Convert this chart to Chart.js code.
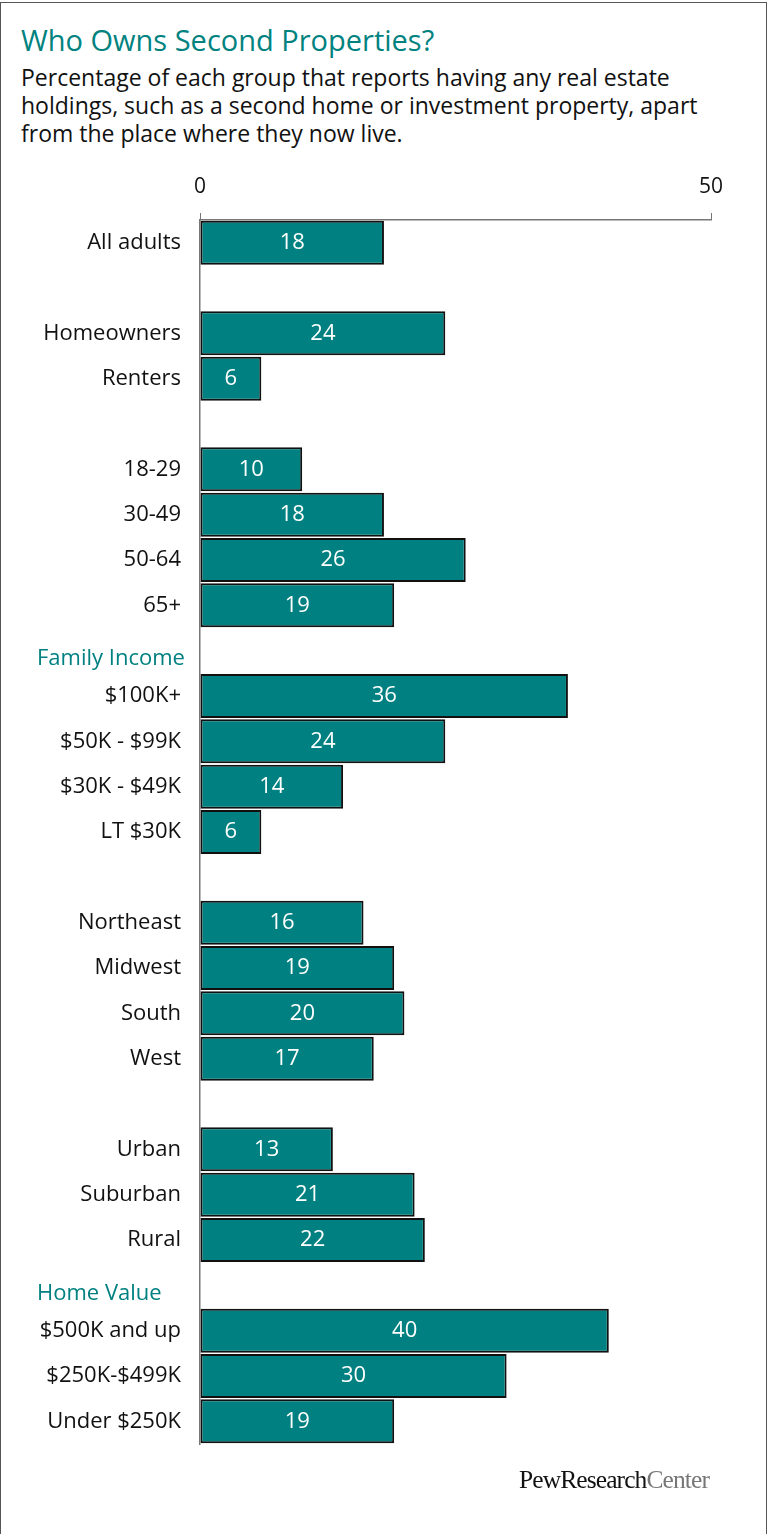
<!DOCTYPE html>
<html>
<head>
<meta charset="utf-8">
<script src="https://cdn.jsdelivr.net/npm/chart.js@4.4.1/dist/chart.umd.min.js"></script>
<style>
  body { margin: 0; background: #fff; }
  #page { position: relative; width: 768px; height: 1534px; overflow: hidden; font-family: "Open Sans", "DejaVu Sans", sans-serif; }
  #frame { position: absolute; left: 0; top: 2px; width: 765px; height: 1600px; border: 1px solid #555; }
  #title { position: absolute; left: 21px; top: 20px; font-size: 29px; color: #00827f; white-space: nowrap; }
  #subtitle { position: absolute; left: 21px; top: 63px; font-size: 23px; line-height: 28px; color: #111; white-space: nowrap; }
  #logo { position: absolute; left: 519px; top: 1465px; font-family: "Liberation Serif", serif; font-size: 25.5px; letter-spacing: -0.9px; color: #111; }
  #logo span { color: #777; }
  canvas { position: absolute; left: 0; top: 0; }
</style>
</head>
<body>
<div id="page">
  <div id="frame"></div>
  <div id="title">Who Owns Second Properties?</div>
  <div id="subtitle">Percentage of each group that reports having any real estate<br>holdings, such as a second home or investment property, apart<br>from the place where they now live.</div>
  <canvas id="chart" width="768" height="1534"></canvas>
  <div id="logo">PewResearch<span>Center</span></div>
</div>
<script>
// rows, top to bottom ('' = spacer row, headers get no bar)
const categories = ['All adults', '', 'Homeowners', 'Renters', '',
  '18-29', '30-49', '50-64', '65+', 'Family Income',
  '$100K+', '$50K - $99K', '$30K - $49K', 'LT $30K', '',
  'Northeast', 'Midwest', 'South', 'West', '',
  'Urban', 'Suburban', 'Rural', 'Home Value',
  '$500K and up', '$250K-$499K', 'Under $250K'];
const values = [18, null, 24, 6, null,
  10, 18, 26, 19, null,
  36, 24, 14, 6, null,
  16, 19, 20, 17, null,
  13, 21, 22, null,
  40, 30, 19];
const headers = ['Family Income', 'Home Value'];
const xTicks = [0, 50];

const teal = '#008080';
const fontFamily = '"Open Sans", "DejaVu Sans", sans-serif';

// value in the middle of each bar + the teal group headers (left aligned, a bit lower than the row)
const barText = {
  id: 'barText',
  afterDatasetsDraw(chart) {
    const ctx = chart.ctx;
    const meta = chart.getDatasetMeta(0);
    const yScale = chart.scales.y;
    ctx.save();
    ctx.font = '22px ' + fontFamily;
    ctx.textBaseline = 'middle';
    ctx.fillStyle = '#fff';
    ctx.textAlign = 'center';
    meta.data.forEach((bar, i) => {
      const v = values[i];
      if (v == null) return;
      ctx.fillText(String(v), (bar.base + bar.x) / 2, bar.y);
    });
    ctx.fillStyle = teal;
    ctx.textAlign = 'left';
    categories.forEach((c, i) => {
      if (!headers.includes(c)) return;
      ctx.fillText(c, 37, yScale.getPixelForValue(i) + 8);
    });
    ctx.restore();
  }
};

new Chart(document.getElementById('chart'), {
  type: 'bar',
  data: {
    labels: categories,
    datasets: [{
      data: values,
      backgroundColor: teal,
      borderColor: '#111',
      borderWidth: 2,
      borderSkipped: false,
      barPercentage: 0.97,
      categoryPercentage: 1
    }]
  },
  options: {
    indexAxis: 'y',
    responsive: false,
    animation: false,
    layout: { padding: { top: 172, right: 57, bottom: 90, left: 0 } },
    plugins: {
      legend: { display: false },
      tooltip: { enabled: false }
    },
    scales: {
      x: {
        position: 'top',
        min: 0,
        max: 50,
        afterBuildTicks: (axis) => { axis.ticks = xTicks.map(v => ({ value: v })); },
        afterFit: (axis) => { axis.height = 48; },
        grid: { drawOnChartArea: false, drawTicks: true, tickLength: 7, color: '#777' },
        border: { color: '#777', width: 1.5 },
        ticks: {
          padding: 13,
          color: '#111',
          font: { family: fontFamily, size: 21 }
        }
      },
      y: {
        afterFit: (axis) => { axis.width = 200; },
        grid: { drawOnChartArea: false, drawTicks: false },
        border: { color: '#777', width: 1.5 },
        ticks: {
          autoSkip: false,
          padding: 19,
          color: '#111',
          callback: (v, i) => headers.includes(categories[i]) ? '' : categories[i],
          font: { family: fontFamily, size: 22 }
        }
      }
    }
  },
  plugins: [barText]
});
</script>
</body>
</html>
